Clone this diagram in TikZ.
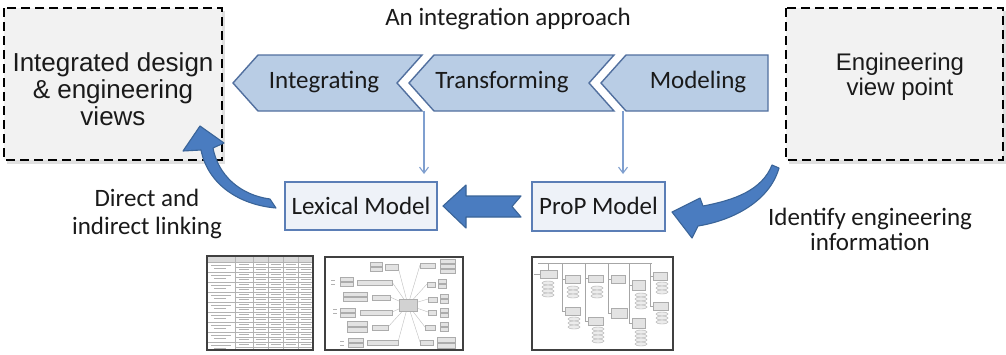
\documentclass[tikz,border=0pt]{standalone}
\usepackage{fontspec}
\setmainfont{Carlito}
\newfontfamily\arialf{Liberation Sans}
\usetikzlibrary{arrows.meta,calc}
\definecolor{chevfill}{HTML}{B9CDE5}
\definecolor{chevdraw}{HTML}{52709F}
\definecolor{arrfill}{HTML}{4A7CC0}
\definecolor{arrdraw}{HTML}{3A6498}
\definecolor{mfill}{HTML}{EEF2F8}
\definecolor{mdraw}{HTML}{5B7EB6}
\definecolor{thinblue}{HTML}{7F9FCF}
\definecolor{dfill}{HTML}{F2F2F2}
\definecolor{txt}{HTML}{1A1A1A}
\begin{document}
\begin{tikzpicture}[x=1pt,y=-1pt,
  every node/.style={text=txt, inner sep=0pt, outer sep=0pt},
  calib/.style={font=\fontsize{25}{28}\selectfont},
  dbox/.style={draw=black, fill=dfill, line width=2.4pt, dash pattern=on 9pt off 5pt},
  dshadow/.style={fill=black, opacity=0.12},
  chev/.style={fill=chevfill, draw=chevdraw, line width=1.4pt, line join=miter},
  mbox/.style={draw=mdraw, fill=mfill, line width=2.2pt, calib, text height=16pt, text depth=0pt},
  blockarr/.style={fill=arrfill, draw=arrdraw, line width=1.1pt, line join=round},
  thinarr/.style={draw=thinblue, line width=1.1pt, -{Straight Barb[length=6pt,width=9pt]}},
  tb/.style={draw=black!75, line width=1.2pt, fill=white},
  tgrid/.style={draw=gray!60, line width=0.4pt},
  tmark/.style={draw=gray!60, line width=1pt},
  mm/.style={draw=gray!65, fill=gray!22, line width=0.4pt},
  mml/.style={draw=gray!50, line width=0.4pt},
  el/.style={draw=gray!65, fill=gray!15, line width=0.4pt}
]
\useasboundingbox (0,0) rectangle (1006,354);
\fill[white] (0,0) rectangle (1006,354);

% title
\node[calib, anchor=base] (title) at (508,25) {An integration approach};

% dashed boxes
\fill[dshadow] (7,11) rectangle (225,164);
\draw[dbox] (4,8) rectangle (222,160);
\node[font=\arialf\fontsize{26}{27}\selectfont, align=center] (views) at (113,89) {Integrated design\\\& engineering\\views};
\fill[dshadow] (789,11) rectangle (1006,164);
\draw[dbox] (786,8) rectangle (1003,160);
\node[font=\arialf\fontsize{24}{25}\selectfont, align=center] (eng) at (900,77) {Engineering\\view point};

% chevrons
\draw[chev] (233,83) -- (258,55) -- (422,55) -- (397,83) -- (422,111) -- (258,111) -- cycle;
\draw[chev] (409,83) -- (434,55) -- (614,55) -- (589,83) -- (614,111) -- (434,111) -- cycle;
\draw[chev] (601,83) -- (626,55) -- (768,55) -- (768,111) -- (626,111) -- cycle;
\node[calib, anchor=base] (integ) at (324,88) {Integrating};
\node[calib, anchor=base] (transf) at (502,88) {Transforming};
\node[calib, anchor=base] (model) at (698,88) {Modeling};

% model boxes
\node[mbox, minimum width=152pt, minimum height=48pt] (lex) at (361,206) {Lexical Model};
\node[mbox, minimum width=133pt, minimum height=49pt] (prop) at (598.5,206.5) {ProP Model};

% thin down arrows
\coordinate (d1) at (424,111);
\coordinate (d2) at (623,111);
\draw[thinarr, shorten >=8pt] (d1) -- (d1 |- lex.north);
\draw[thinarr, shorten >=8pt] (d2) -- (d2 |- prop.north);

% straight block arrow ProP -> Lexical
\draw[blockarr] (443,206) -- (466,185) -- (466,196) -- (521,196) -- (512,206.5) -- (521,217) -- (466,217) -- (466,228) -- cycle;

% curved arrow Lexical -> left box
\draw[blockarr] (276,208) .. controls (240,205) and (208,185) .. (201,150)
  -- (183,151) -- (200,126) -- (224,143) -- (213,148)
  .. controls (218,175) and (240,195) .. (270,199) -- cycle;

% curved arrow engineering view point -> ProP
\draw[blockarr] (779,168) .. controls (770,200) and (735,220) .. (698,226)
  -- (692,238) -- (672,212) -- (700,198) -- (703,206)
  .. controls (735,200) and (762,190) .. (772,165) -- cycle;

% labels
\node[calib, align=center, font=\fontsize{25}{28}\selectfont] (dlink) at (147,213.5) {Direct and\\indirect linking};
\node[calib, align=center, font=\fontsize{25}{25}\selectfont] (ident) at (870,229) {Identify engineering\\information};

% ---------- thumbnail 1: table ----------
\draw[tb] (207,256) rectangle (313,350);
\fill[gray!30] (208,257) rectangle (312,262);
\foreach \x in {235,253,268,283,298} \draw[tgrid] (\x,256) -- (\x,350);
\foreach \y in {262,267,...,347} \draw[tgrid] (235,\y) -- (313,\y);
\foreach \y in {262,272,...,342} \draw[tgrid] (207,\y) -- (235,\y);
\foreach \y in {264.5,269.5,...,347.5} {
  \foreach \x in {244,260.5,275.5,290.5,305.5} \draw[tmark] (\x-5,\y) -- (\x+5,\y);
}
\foreach \y in {265,275,...,345} {
  \draw[tmark] (211,\y) -- (231,\y);
  \draw[tmark] (214,\y+3) -- (226,\y+3);
}
\draw[tb, fill=none] (207,256) rectangle (313,350);

% ---------- thumbnail 2: mind map ----------
\draw[tb] (325,257) rectangle (463,350);
\foreach \x/\y in {398/267,392/282,390/297,392/312,388/327,398/342,420/265,427/284,428/299,428/312,425/327,420/342}
  \draw[mml] (408,305) -- (\x,\y);
\foreach \a/\b/\c/\d in {
  385/264/398/270, 370/262/382/266, 370/267/382/271,
  357/280/392/285, 340/277/353/281, 340/282/353/286,
  372/295/390/300, 343/292/367/296, 343/297/367/301,
  360/310/392/315, 340/308/355/312, 340/313/355/317,
  372/325/388/330, 347/321/367/326, 347/327/367/332,
  367/340/398/345, 348/338/363/342, 348/343/363/347,
  420/263/435/268, 440/259/455/263, 440/264/455/268, 440/269/455/273,
  427/282/435/287, 438/279/446/283, 438/284/446/288,
  428/297/437/302, 440/294/448/298, 440/299/448/303,
  428/310/436/315, 440/308/448/312, 440/313/448/317,
  425/325/435/330, 440/322/448/326, 440/327/448/331,
  420/340/433/345, 437/337/455/342, 437/343/455/348}
  \draw[mm] (\a,\b) rectangle (\c,\d);
\draw[mm, fill=gray!35] (399,299) rectangle (417,311);
\foreach \x/\y in {331/280,331/284,333/309,333/313,340/341,340/345}
  \draw[tmark, line width=0.6pt] (\x,\y) -- (\x+4,\y);

% ---------- thumbnail 3: ProP tree ----------
\draw[tb] (532,257) rectangle (673,350);
\draw[mml, draw=gray!70] (538,263) -- (652,263);
\draw[mml, draw=gray!70] (534,274) -- (540,274);
\draw[mml, draw=gray!70] (548,263) -- (548,270);
\foreach \x/\ya/\yb in {562/279/311, 585/278/321, 608/279/313, 629/285/323, 650/276/306} {
  \draw[mml, draw=gray!70] (\x,263) -- (\x,\yb);
  \draw[mml, draw=gray!70] (\x,\ya) -- (\x+3,\ya);
  \draw[mml, draw=gray!70] (\x,\yb) -- (\x+3,\yb);
}
\foreach \a/\b/\c/\d in {540/270/557/278, 565/275/580/283, 588/275/603/282, 611/275/625/283,
  632/280/645/290, 653/272/667/280, 565/307/580/315, 588/317/603/325, 611/308/627/318,
  632/318/645/328, 653/302/668/310}
  \draw[mm] (\a,\b) rectangle (\c,\d);
\foreach \cx/\ys in {548/{283,287,291,295}, 573/{288,292,296}, 597/{288,292,296},
  641/{295,299,303,307}, 662/{284,288,292}, 574/{319,323,327}, 598/{329,333,337,341},
  641/{332,336,340,344}, 662/{314,318,322}}
  \foreach \y in \ys \draw[el] (\cx,\y) ellipse [x radius=6pt, y radius=2pt];
\end{tikzpicture}
\end{document}
